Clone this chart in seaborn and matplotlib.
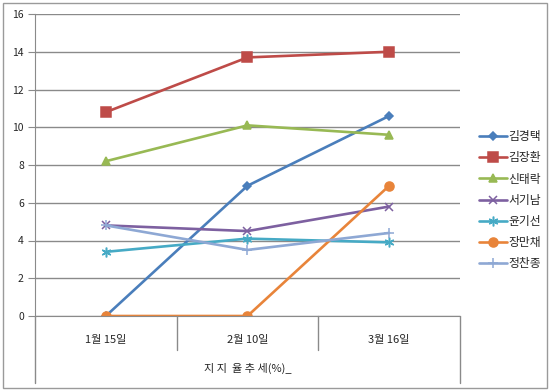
import numpy as np
import pandas as pd
import matplotlib
matplotlib.use("Agg")
import matplotlib.pyplot as plt
import seaborn as sns
from matplotlib.patches import Rectangle

dates = ["1월 15일", "2월 10일", "3월 16일"]
names = ["김경택", "김장환", "신태락", "서기남", "윤기선", "장만채", "정찬종"]
kim_gt = [0, 6.9, 10.6]
kim_jh = [10.8, 13.7, 14.0]
shin_tr = [8.2, 10.1, 9.6]
seo_gn = [4.8, 4.5, 5.8]
yoon_gs = [3.4, 4.1, 3.9]
jang_mc = [0, 0, 6.9]
jung_cj = [4.8, 3.5, 4.4]
series = [kim_gt, kim_jh, shin_tr, seo_gn, yoon_gs, jang_mc, jung_cj]

colors = ["#4A7EBB", "#BE4B48", "#98B954", "#7D60A0", "#46AAC5", "#E8843A", "#8EA8D4"]
markers = ["D", "s", "^", "x", (6, 2, 0), "o", "+"]
msizes = [4.5, 6.5, 6, 6, 7, 6.5, 7]

rows = []
for n, vals in zip(names, series):
    for i, v in enumerate(vals):
        rows.append({"name": n, "pos": i, "value": v})
df = pd.DataFrame(rows)

sns.set_style("white")
plt.rcParams["font.family"] = ["Noto Sans CJK KR", "DejaVu Sans"]

fig = plt.figure(figsize=(5.5, 3.91), dpi=100)
ax = fig.add_axes([35 / 550, 1 - 316 / 391, 425 / 550, 302 / 391])

for n, c, m, s in zip(names, colors, markers, msizes):
    sub = df[df["name"] == n]
    sns.lineplot(data=sub, x="pos", y="value", ax=ax, color=c, marker=m,
                 markersize=s, linewidth=1.9, markeredgecolor=c,
                 markeredgewidth=1.1, label=n)

ax.set_xlim(-0.5, 2.5)
ax.set_ylim(0, 16)
ax.set_yticks(np.arange(0, 17, 2))
ax.yaxis.grid(True, color="#8a8a8a", linewidth=1)
ax.set_axisbelow(True)
for sp in ["top", "right"]:
    ax.spines[sp].set_visible(False)
ax.spines["left"].set_color("#8a8a8a")
ax.spines["bottom"].set_color("#8a8a8a")
ax.tick_params(axis="y", left=True, length=5, color="#8a8a8a", labelsize=7.5, pad=3)
ax.tick_params(axis="x", bottom=False, labelsize=8, pad=10)
ax.set_xticks([0, 1, 2])
ax.set_xticklabels(dates)
ax.set_xlabel("지 지  율 추 세(%)_", fontsize=8, labelpad=13)
ax.set_ylabel("")

# category separators below the axis
for xb, depth in [(-0.5, 67), (0.5, 34), (1.5, 34), (2.5, 67)]:
    ax.plot([xb, xb], [0, -depth / 302 * 16], color="#8a8a8a", linewidth=1,
            clip_on=False)

leg = ax.legend(loc="upper left", bbox_to_anchor=(1.02, 0.65), frameon=False,
                fontsize=8.5, handlelength=2.4, labelspacing=0.69, handletextpad=0.1)

fig.patches.append(Rectangle((3 / 550, 3 / 391), 544 / 550, 385 / 391,
                             transform=fig.transFigure, fill=False,
                             edgecolor="#9a9a9a", linewidth=1))

fig.savefig("out.png", dpi=100)
